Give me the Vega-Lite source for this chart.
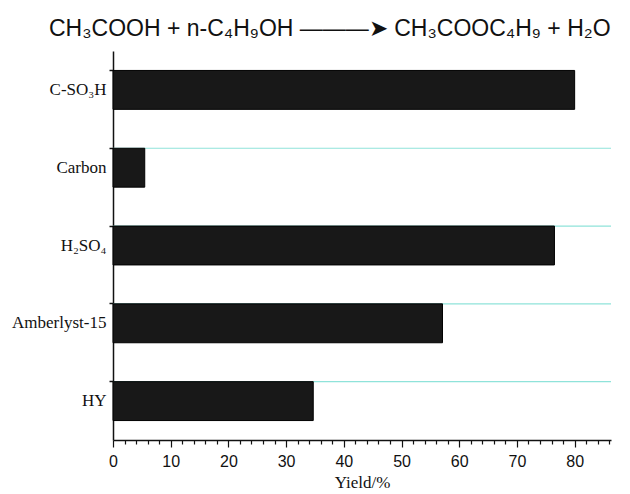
{
  "$schema": "https://vega.github.io/schema/vega-lite/v6.json",
  "autosize": "none",
  "padding": {"left": 113, "top": 51, "right": 19, "bottom": 54},
  "width": 498,
  "height": 389,
  "background": "white",
  "title": {
    "text": "CH₃COOH + n-C₄H₉OH ———➤ CH₃COOC₄H₉ + H₂O",
    "font": "Liberation Sans",
    "fontSize": 23,
    "fontWeight": "normal",
    "color": "#111",
    "anchor": "start",
    "frame": "group",
    "dx": -64,
    "offset": 10
  },
  "data": {
    "values": [
      {"catalyst": "C-SO₃H", "yield": 80.0},
      {"catalyst": "Carbon", "yield": 5.5},
      {"catalyst": "H₂SO₄", "yield": 76.5},
      {"catalyst": "Amberlyst-15", "yield": 57.1},
      {"catalyst": "HY", "yield": 34.7}
    ]
  },
  "config": {"view": {"stroke": null}},
  "layer": [
    {
      "transform": [{"filter": "datum.catalyst !== 'C-SO₃H'"}],
      "mark": {"type": "rule", "color": "#8fe3da", "strokeWidth": 1.2},
      "encoding": {
        "y": {"field": "catalyst", "type": "nominal", "bandPosition": 0,
              "sort": ["C-SO₃H", "Carbon", "H₂SO₄", "Amberlyst-15", "HY"]}
      }
    },
    {
      "mark": {"type": "bar", "color": "#181818", "stroke": "#000", "strokeWidth": 1},
      "encoding": {
        "y": {
          "field": "catalyst", "type": "nominal",
          "sort": ["C-SO₃H", "Carbon", "H₂SO₄", "Amberlyst-15", "HY"],
          "scale": {"paddingInner": 0.5, "paddingOuter": 0.25},
          "axis": {
            "title": null,
            "bandPosition": 0,
            "labelFont": "Liberation Serif",
            "labelFontSize": 17,
            "labelColor": "#111",
            "labelPadding": 3,
            "tickSize": 4,
            "tickColor": "#111",
            "tickWidth": 1.5,
            "domainColor": "#111",
            "domainWidth": 1.5,
            "grid": false
          }
        },
        "x": {
          "field": "yield", "type": "quantitative",
          "scale": {"domain": [0, 86.3], "nice": false},
          "axis": {
            "title": "Yield/%",
            "titleFont": "Liberation Serif",
            "titleFontSize": 17,
            "titleFontWeight": "normal",
            "titleColor": "#111",
            "titlePadding": 5,
            "values": [0,2,4,6,8,10,12,14,16,18,20,22,24,26,28,30,32,34,36,38,40,42,44,46,48,50,52,54,56,58,60,62,64,66,68,70,72,74,76,78,80,82,84,86],
            "labelExpr": "datum.value % 10 === 0 ? datum.label : ''",
            "labelFont": "Liberation Sans",
            "labelFontSize": 16,
            "labelColor": "#111",
            "labelPadding": 6,
            "labelFlush": false,
            "labelOverlap": false,
            "tickSize": {"condition": {"test": "datum.value % 10 === 0", "value": 7}, "value": 4},
            "tickColor": "#111",
            "tickWidth": 1.2,
            "domainColor": "#111",
            "domainWidth": 1.5,
            "grid": false
          }
        }
      }
    }
  ]
}
